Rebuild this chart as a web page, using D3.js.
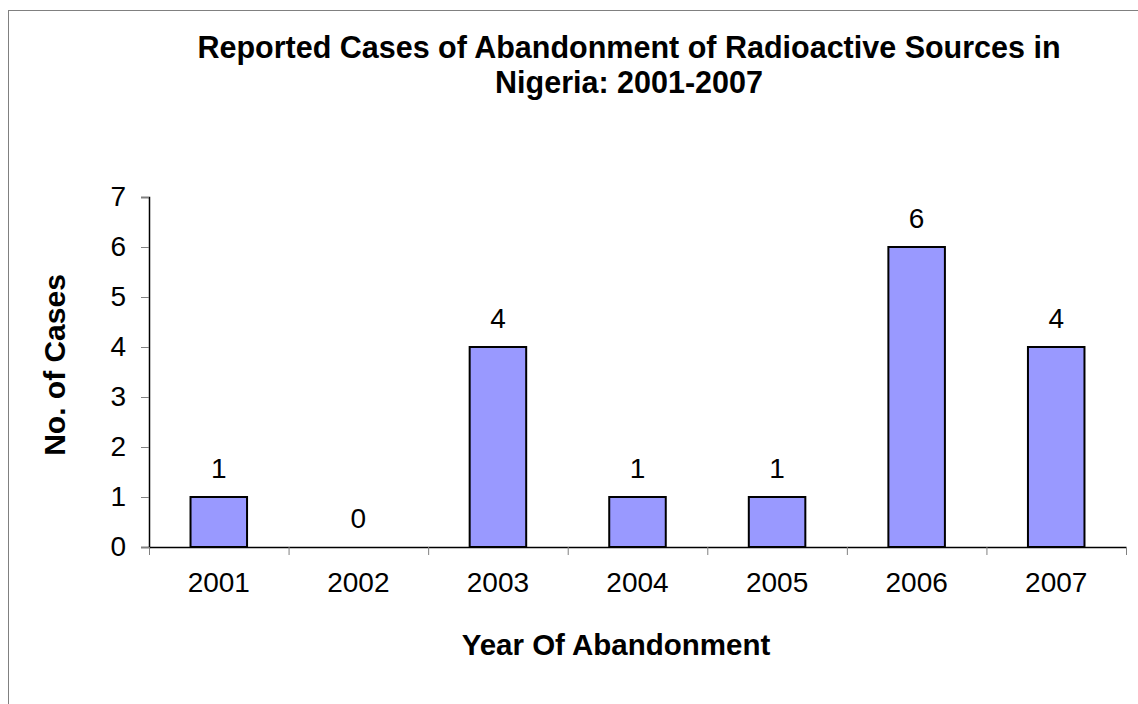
<!DOCTYPE html>
<html>
<head>
<meta charset="utf-8">
<script src="https://cdn.jsdelivr.net/npm/d3@7"></script>
<style>
  body { margin: 0; background: #fff; }
  svg { display: block; font-family: "Liberation Sans", Arial, sans-serif; }
</style>
</head>
<body>
<svg id="chart" width="1138" height="704"></svg>
<script>
// data
var years = ["2001", "2002", "2003", "2004", "2005", "2006", "2007"];
var cases = [1, 0, 4, 1, 1, 6, 4];
var yTicks = [0, 1, 2, 3, 4, 5, 6, 7];
var titleLines = ["Reported Cases of Abandonment of Radioactive Sources in", "Nigeria: 2001-2007"];

var svg = d3.select("#chart");

// outer frame (runs off the right and bottom edge)
svg.append("rect")
    .attr("x", 8.5).attr("y", 10.5)
    .attr("width", 1200).attr("height", 800)
    .attr("fill", "none")
    .attr("stroke", "#808080")
    .attr("stroke-width", 1);

var plotLeft = 149, plotRight = 1126, plotTop = 197, plotBottom = 547;

var x = d3.scaleBand()
    .domain(years)
    .range([plotLeft, plotRight])
    .paddingInner(0.595)
    .paddingOuter(0.2975);

// category edges for the x tick marks
var xEdge = d3.scaleLinear().domain([0, years.length]).range([plotLeft, plotRight]);

var y = d3.scaleLinear()
    .domain([0, 7])
    .range([plotBottom, plotTop]);

// bars
svg.append("g").selectAll("rect")
    .data(cases)
    .enter().append("rect")
    .attr("x", function (d, i) { return x(years[i]); })
    .attr("y", function (d) { return y(d); })
    .attr("width", x.bandwidth())
    .attr("height", function (d) { return y(0) - y(d); })
    .attr("fill", "#9999FF")
    .attr("stroke", "#000")
    .attr("stroke-width", 2)
    .style("display", function (d) { return d > 0 ? null : "none"; });

// value labels
svg.append("g").selectAll("text")
    .data(cases)
    .enter().append("text")
    .attr("x", function (d, i) { return x(years[i]) + x.bandwidth() / 2; })
    .attr("y", function (d) { return y(d) - 19; })
    .attr("text-anchor", "middle")
    .attr("font-size", 28)
    .text(function (d) { return d; });

// y axis
var yAxis = svg.append("g")
    .attr("transform", "translate(" + plotLeft + ",0)")
    .call(d3.axisLeft(y).tickValues(yTicks).tickSize(8).tickPadding(15).tickFormat(d3.format("d")));
yAxis.select(".domain").attr("stroke", "#000").attr("stroke-width", 1.5);
yAxis.selectAll(".tick line").attr("stroke", "#808080");
yAxis.selectAll(".tick text")
    .attr("font-size", 28)
    .attr("font-family", "Liberation Sans, Arial, sans-serif")
    .attr("fill", "#000");

// x axis: marks on category edges
var xAxis = svg.append("g")
    .attr("transform", "translate(0," + plotBottom + ")")
    .call(d3.axisBottom(xEdge).tickValues(d3.range(years.length + 1)).tickSize(8).tickFormat("").tickSizeOuter(0));
xAxis.select(".domain").attr("stroke", "#000").attr("stroke-width", 1.5);
xAxis.selectAll(".tick line").attr("stroke", "#808080");

// x category labels
svg.append("g").selectAll("text")
    .data(years)
    .enter().append("text")
    .attr("x", function (d) { return x(d) + x.bandwidth() / 2; })
    .attr("y", 592)
    .attr("text-anchor", "middle")
    .attr("font-size", 28)
    .text(function (d) { return d; });

// titles
var title = svg.append("text")
    .attr("text-anchor", "middle")
    .attr("font-size", 30.5)
    .attr("font-weight", "bold");
title.selectAll("tspan")
    .data(titleLines)
    .enter().append("tspan")
    .attr("x", 629)
    .attr("y", function (d, i) { return 58 + i * 35; })
    .text(function (d) { return d; });

svg.append("text")
    .attr("x", 616)
    .attr("y", 655)
    .attr("text-anchor", "middle")
    .attr("font-size", 29.5)
    .attr("font-weight", "bold")
    .text("Year Of Abandonment");

svg.append("text")
    .attr("transform", "translate(65,365) rotate(-90)")
    .attr("text-anchor", "middle")
    .attr("font-size", 30)
    .attr("font-weight", "bold")
    .text("No. of Cases");
</script>
</body>
</html>
